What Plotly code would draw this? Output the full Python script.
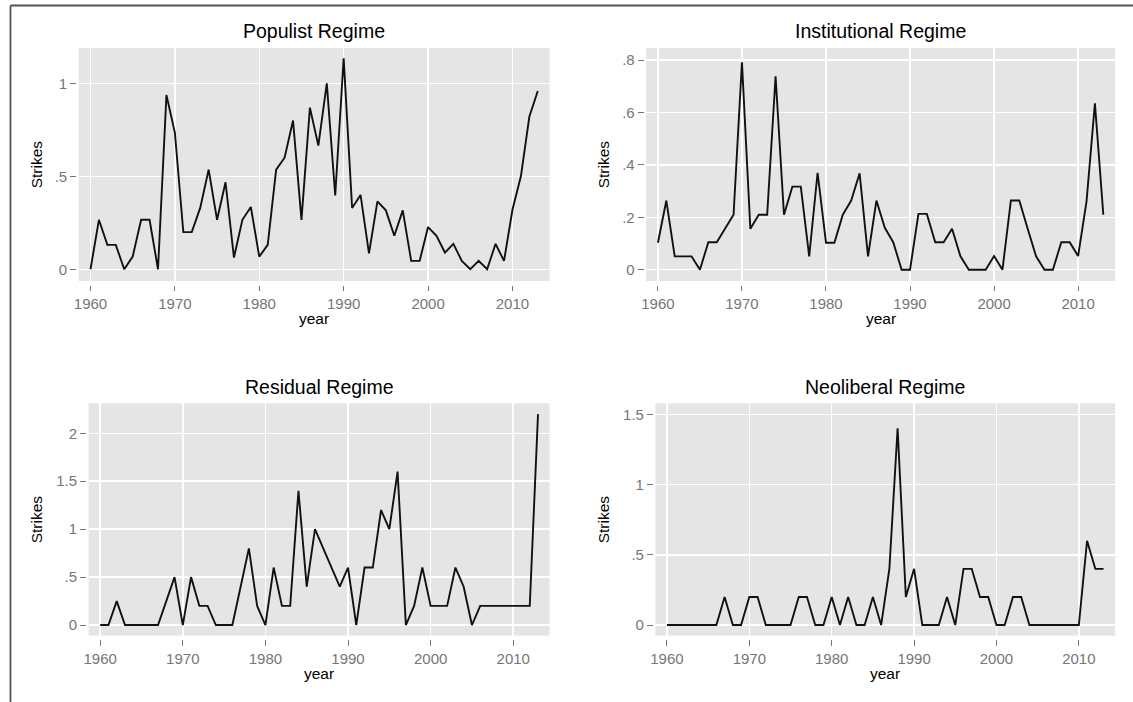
import plotly.graph_objects as go

# ---------------- data ----------------
years = list(range(1960, 2014))

populist = [0, 0.266, 0.131, 0.131, 0, 0.068, 0.266, 0.266, 0, 0.937,
            0.734, 0.2, 0.2, 0.33, 0.536, 0.266, 0.468, 0.063, 0.266, 0.335,
            0.068, 0.131, 0.536, 0.6, 0.8, 0.266, 0.869, 0.665, 1.0, 0.397,
            1.135, 0.33, 0.4, 0.086, 0.365, 0.317, 0.18, 0.317, 0.045, 0.045,
            0.227, 0.18, 0.09, 0.137, 0.045, 0, 0.045, 0, 0.137, 0.045,
            0.32, 0.5, 0.82, 0.959]

institutional = [0.103, 0.264, 0.051, 0.051, 0.051, 0, 0.105, 0.105, 0.156, 0.21,
                 0.791, 0.156, 0.21, 0.21, 0.738, 0.21, 0.317, 0.317, 0.051, 0.37,
                 0.103, 0.103, 0.21, 0.264, 0.368, 0.051, 0.264, 0.16, 0.105, 0,
                 0, 0.213, 0.213, 0.105, 0.105, 0.156, 0.051, 0, 0, 0,
                 0.052, 0, 0.264, 0.264, 0.156, 0.051, 0, 0, 0.105, 0.105,
                 0.052, 0.26, 0.635, 0.21]

residual = [0, 0, 0.25, 0, 0, 0, 0, 0, 0.25, 0.5,
            0, 0.5, 0.2, 0.2, 0, 0, 0, 0.4, 0.8, 0.2,
            0, 0.6, 0.2, 0.2, 1.4, 0.4, 1.0, 0.8, 0.6, 0.4,
            0.6, 0, 0.6, 0.6, 1.2, 1.0, 1.6, 0, 0.2, 0.6,
            0.2, 0.2, 0.2, 0.6, 0.4, 0, 0.2, 0.2, 0.2, 0.2,
            0.2, 0.2, 0.2, 2.2]

neoliberal = [0, 0, 0, 0, 0, 0, 0, 0.2, 0, 0,
              0.2, 0.2, 0, 0, 0, 0, 0.2, 0.2, 0, 0,
              0.2, 0, 0.2, 0, 0, 0.2, 0, 0.4, 1.4, 0.2,
              0.4, 0, 0, 0, 0.2, 0, 0.4, 0.4, 0.2, 0.2,
              0, 0, 0.2, 0.2, 0, 0, 0, 0, 0, 0,
              0, 0.6, 0.4, 0.4]

titles = ["Populist Regime", "Institutional Regime", "Residual Regime", "Neoliberal Regime"]
series = [populist, institutional, residual, neoliberal]

x_tickvals = [1960, 1970, 1980, 1990, 2000, 2010]
x_ticktext = ["1960", "1970", "1980", "1990", "2000", "2010"]

y_tickvals = [[0, 0.5, 1], [0, 0.2, 0.4, 0.6, 0.8], [0, 0.5, 1, 1.5, 2], [0, 0.5, 1, 1.5]]
y_ticktext = [["0", ".5", "1"], ["0", ".2", ".4", ".6", ".8"],
              ["0", ".5", "1", "1.5", "2"], ["0", ".5", "1", "1.5"]]

# ---------------- layout geometry (pixels) ----------------
W, H = 1133, 702
# panel boxes: left, right, top, bottom
panels = [(74, 547, 48, 281), (644, 1115, 48, 281),
          (84, 547, 403.3, 635.6), (653.3, 1115, 403.3, 635.6)]
y_ranges = [[-0.063, 1.19], [-0.043, 0.846], [-0.11, 2.313], [-0.075, 1.578]]
x_range = [1958.6, 2014.4]
ytitle_x = [32, 601.5, 32, 601.5]


def px(x):
    return x / W


def py(y):
    return 1 - y / H


FONT = "Liberation Sans, Arial, Helvetica, sans-serif"
TICKC = "#767676"

fig = go.Figure()
layout = dict(width=W, height=H, margin=dict(l=0, r=0, t=0, b=0),
              paper_bgcolor="white", showlegend=False, autosize=False,
              plot_bgcolor="#E5E5E5", font=dict(family=FONT))
annotations = []

for i, (title, vals) in enumerate(zip(titles, series)):
    n = i + 1
    xa = "x" if n == 1 else f"x{n}"
    ya = "y" if n == 1 else f"y{n}"
    fig.add_trace(go.Scatter(x=years, y=vals, mode="lines", xaxis=xa, yaxis=ya,
                             line=dict(color="#111111", width=1.9),
                             hoverinfo="skip"))
    l, r, t, b = panels[i]
    xkey = "xaxis" if n == 1 else f"xaxis{n}"
    ykey = "yaxis" if n == 1 else f"yaxis{n}"
    layout[xkey] = dict(domain=[px(l), px(r)], range=x_range, anchor="free",
                        position=py(b + 3.5),
                        tickvals=x_tickvals, ticktext=x_ticktext,
                        ticks="outside", ticklen=5.5, tickwidth=1, tickcolor=TICKC,
                        tickfont=dict(size=15, color=TICKC, family=FONT),
                        showgrid=True, gridcolor="white", gridwidth=1.5,
                        zeroline=False, showline=False, fixedrange=True)
    layout[ykey] = dict(domain=[py(b), py(t)], range=y_ranges[i], anchor="free",
                        position=px(l - 2.5),
                        tickvals=y_tickvals[i], ticktext=y_ticktext[i],
                        ticks="outside", ticklen=6, tickwidth=1, tickcolor=TICKC,
                        tickfont=dict(size=15, color=TICKC, family=FONT),
                        showgrid=True, gridcolor="white", gridwidth=1.5,
                        zeroline=False, showline=False, fixedrange=True)
    cx = (l + r) / 2
    title_y = 31.5 if i < 2 else 387.2
    annotations.append(dict(text=title, x=px(cx), y=py(title_y), xref="paper", yref="paper",
                            xanchor="center", yanchor="middle", showarrow=False,
                            font=dict(size=19.5, color="black", family=FONT)))
    year_y = 318.6 if i < 2 else 673.3
    annotations.append(dict(text="year", x=px(cx), y=py(year_y), xref="paper", yref="paper",
                            xanchor="center", yanchor="middle", showarrow=False,
                            font=dict(size=15.5, color="black", family=FONT)))
    annotations.append(dict(text="Strikes", x=px(ytitle_x[i]), y=py((t + b) / 2),
                            xref="paper", yref="paper", textangle=-90,
                            xanchor="center", yanchor="middle", showarrow=False,
                            font=dict(size=15.5, color="black", family=FONT)))

layout["annotations"] = annotations
layout["shapes"] = [
    dict(type="line", xref="paper", yref="paper", x0=px(5.5), x1=1, y0=py(5.5), y1=py(5.5),
         line=dict(color="#555555", width=1.8)),
    dict(type="line", xref="paper", yref="paper", x0=px(5.5), x1=px(5.5), y0=py(5.5), y1=0,
         line=dict(color="#555555", width=1.8)),
]
fig.update_layout(**layout)
fig.write_html("out.html",
               config={"displayModeBar": False, "staticPlot": True},
               post_script="document.body.style.margin='0';document.body.style.padding='0';")
